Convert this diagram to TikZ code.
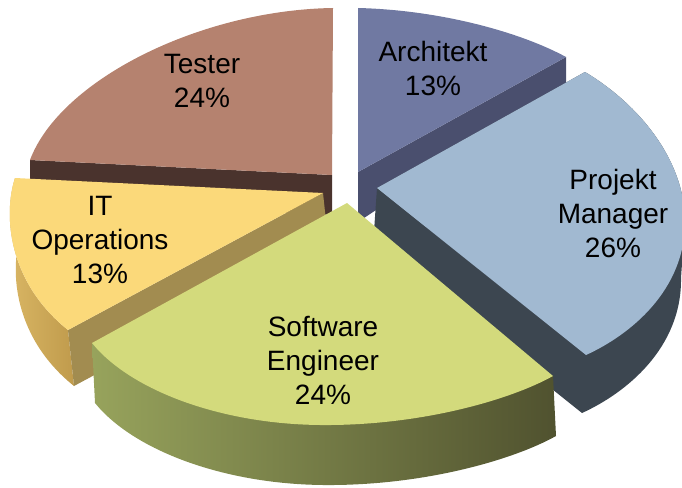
\documentclass[tikz,border=0pt]{standalone}
\usepackage{fontspec}
\setmainfont{Liberation Sans}
\definecolor{tst}{HTML}{B5826F}
\definecolor{tstside}{HTML}{4A332D}
\definecolor{arc}{HTML}{7079A2}
\definecolor{arcside}{HTML}{4A4F6E}
\definecolor{pm}{HTML}{A1B9D1}
\definecolor{pmside}{HTML}{3C4650}
\definecolor{itop}{HTML}{FBD97A}
\definecolor{itside}{HTML}{A28C50}
\definecolor{itrim}{HTML}{DBB866}
\definecolor{itrimdark}{HTML}{C09B4C}
\definecolor{se}{HTML}{D3DA7C}
\definecolor{serim}{HTML}{97A35C}
\definecolor{serimmid}{HTML}{6C703D}
\definecolor{serimdark}{HTML}{50522F}

\begin{document}
\begin{tikzpicture}[x=1pt,y=-1pt,lbl/.style={align=center,font=\fontsize{28}{34}\selectfont}]
\useasboundingbox (0,0) rectangle (682,487);
\clip (0,0) rectangle (682,487);
\fill[tstside] (30,160) -- (332,175) -- (332,215) -- (30,200) -- cycle;
\fill[tst] (332,175) -- (333,8) .. controls (200,10) and (60,80) .. (30,160) -- cycle;
\fill[arcside] (358,172) -- (566,57) -- (566,84) -- (358,222) -- cycle;
\fill[arc] (358,172) -- (358,8) .. controls (440,10) and (520,32) .. (566,57) -- cycle;
\shade[left color=itrim, right color=itrimdark] (15,178) .. controls (3,215) and (8,282) .. (68,330) -- (74,386) .. controls (14,338) and (9,271) .. (21,234) -- cycle;
\fill[itside] (323,193) -- (68,330) -- (74,386) -- (329,249) -- cycle;
\fill[itop] (323,193) -- (15,178) .. controls (3,215) and (8,282) .. (68,330) -- cycle;
\fill[pmside] (377,188) -- (373,246) -- (582,413) .. controls (626,393) and (682,348) .. (681,278) -- (685,220) .. controls (684,160) and (640,105) .. (585,72) -- cycle;
\fill[pm] (377,188) -- (585,72) .. controls (640,105) and (684,160) .. (685,220) .. controls (686,290) and (630,335) .. (586,355) -- cycle;
\shade[left color=serim, middle color=serimmid, right color=serimdark] (92,343) -- (95,403) .. controls (133,450) and (223,484) .. (323,485) .. controls (423,486) and (513,460) .. (556,436) -- (553,376) -- cycle;
\fill[se] (347,203) -- (92,343) .. controls (130,390) and (220,424) .. (320,425) .. controls (420,426) and (510,400) .. (553,376) -- cycle;
\node[lbl] (tester) at (202,81) {Tester\\24\%};
\node[lbl] (architekt) at (433,68) {Architekt\\13\%};
\node[lbl] (projekt) at (613,213) {Projekt\\Manager\\26\%};
\node[lbl] (itops) at (100,240) {IT\\Operations\\13\%};
\node[lbl] (software) at (323,360) {Software\\Engineer\\24\%};
\end{tikzpicture}
\end{document}
